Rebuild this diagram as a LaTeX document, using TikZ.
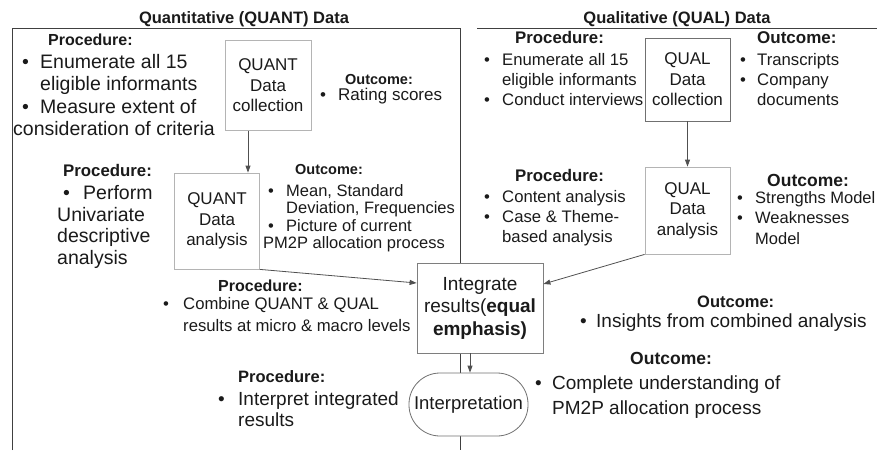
\documentclass[tikz,border=0pt]{standalone}
\usepackage{fontspec}
\setmainfont{Liberation Sans}
\usetikzlibrary{arrows.meta}
\definecolor{txtc}{HTML}{1A1A1A}
\definecolor{framec}{HTML}{404040}
\definecolor{arrc}{HTML}{505050}
\definecolor{lightbox}{HTML}{B4B4B4}
\definecolor{darkbox}{HTML}{707070}
\newcommand\fz[1]{\fontsize{#1}{#1}\selectfont}
\tikzset{
  ln/.style={anchor=base west, inner sep=0pt, text=txtc},
  hd/.style={ln},
  ttl/.style={anchor=base, inner sep=0pt, text=txtc, font=\bfseries\fz{16.5}},
  boxq/.style={draw=#1, line width=0.8pt, fill=white, inner sep=0pt, align=center, text=txtc, font={\fontsize{17}{20.5}\selectfont}},
  arr/.style={draw=arrc, line width=0.8pt, -{Triangle[length=7pt,width=5pt]}},
  frame/.style={draw=framec, line width=0.9pt}
}
\begin{document}
\begin{tikzpicture}[x=1pt,y=-1pt]
\useasboundingbox (0,0) rectangle (877,450);
% panel frames
\coordinate (lb) at (12,450);
\coordinate (lt) at (12,28);
\coordinate (rt) at (460,28);
\coordinate (rb) at (460,450);
\coordinate (qa) at (477,28);
\coordinate (qb) at (877,28);
\draw[frame] (lb) -- (lt) -- (rt) -- (rb);
\draw[frame] (qa) -- (qb);
% titles
\node[ttl] (t1) at (244,23) {Quantitative (QUANT) Data};
\node[ttl] (t2) at (677,23) {Qualitative (QUAL) Data};

% boxes
\node[boxq=lightbox, minimum width=86pt, minimum height=90pt] (qcol) at (268,85.5) {QUANT\\Data\\collection};
\node[boxq=lightbox, minimum width=85pt, minimum height=96pt] (qana) at (217,221) {QUANT\\Data\\analysis};
\node[boxq=darkbox, minimum width=85pt, minimum height=83pt] (lcol) at (687.5,79.5) {QUAL\\Data\\collection};
\node[boxq=lightbox, minimum width=85pt, minimum height=87pt] (lana) at (687.5,210.5) {QUAL\\Data\\analysis};
\node[boxq=darkbox!80!lightbox, minimum width=126pt, minimum height=90pt, font={\fontsize{19}{22.5}\selectfont}] (integ) at (480,308) {Integrate\\results(\textbf{equal}\\\textbf{emphasis)}};
\node[boxq=darkbox, minimum width=119pt, minimum height=63pt, rounded corners=31pt, font=\fz{18.5}] (interp) at (468.5,404.5) {Interpretation};

% arrows
\draw[arr] ([xshift=-20pt]qcol.south) -- ([xshift=-20pt]qcol.south |- qana.north);
\draw[arr] (qana.south east) -- ([yshift=25pt]integ.west);
\draw[arr] (lcol.south) -- (lana.north);
\draw[arr] (lana.south west) -- ([yshift=24pt]integ.east);
\draw[arr] ([xshift=-10pt]integ.south) -- ([xshift=-10pt]integ.south |- interp.north);

% top-left procedure
\node[hd, font=\bfseries\fz{16}] (p1h) at (48,45) {Procedure:};
\node[ln, font=\fz{19.5}] (p1b1) at (22,68) {•};
\node[ln, font=\fz{19.5}] (p1a) at (40,68) {Enumerate all 15};
\node[ln, font=\fz{19.5}] (p1b) at (40,90.5) {eligible informants};
\node[ln, font=\fz{19.5}] (p1b2) at (22,113) {•};
\node[ln, font=\fz{19.5}] (p1c) at (40,113) {Measure extent of};
\node[ln, font=\fz{19.5}] (p1d) at (13,135.5) {consideration of criteria};
% top-left outcome
\node[hd, font=\bfseries\fz{14.5}] (o1h) at (345,84.5) {Outcome:};
\node[ln, font=\fz{17}] (o1b1) at (320,100.5) {•};
\node[ln, font=\fz{17}] (o1a) at (338,100.5) {Rating scores};

% mid-left procedure
\node[hd, font=\bfseries\fz{16.8}] (p2h) at (63,176.5) {Procedure:};
\node[ln, font=\fz{19.5}] (p2b1) at (63,199) {•};
\node[ln, font=\fz{19.5}] (p2a) at (83,199) {Perform};
\node[ln, font=\fz{19.5}] (p2b) at (57,221) {Univariate};
\node[ln, font=\fz{19.5}] (p2c) at (57,242.5) {descriptive};
\node[ln, font=\fz{19.5}] (p2d) at (57,264) {analysis};
% mid-left outcome
\node[hd, font=\bfseries\fz{14.5}] (o2h) at (295,174) {Outcome:};
\node[ln, font=\fz{16.5}] (o2b1) at (268,196) {•};
\node[ln, font=\fz{16.5}] (o2a) at (286,196) {Mean, Standard};
\node[ln, font=\fz{16.5}] (o2b) at (286,213.5) {Deviation, Frequencies};
\node[ln, font=\fz{16.5}] (o2b2) at (268,231) {•};
\node[ln, font=\fz{16.5}] (o2c) at (286,231) {Picture of current};
\node[ln, font=\fz{16.5}] (o2d) at (263,248) {PM2P allocation process};

% top-right procedure
\node[hd, font=\bfseries\fz{16.8}] (p3h) at (515,43.5) {Procedure:};
\node[ln, font=\fz{16.7}] (p3b1) at (484,65) {•};
\node[ln, font=\fz{16.7}] (p3a) at (502,65) {Enumerate all 15};
\node[ln, font=\fz{16.7}] (p3b) at (502,85) {eligible informants};
\node[ln, font=\fz{16.7}] (p3b2) at (484,105) {•};
\node[ln, font=\fz{16.7}] (p3c) at (502,105) {Conduct interviews};
% top-right outcome
\node[hd, font=\bfseries\fz{17}] (o3h) at (757,43.5) {Outcome:};
\node[ln, font=\fz{16.7}] (o3b1) at (740,65) {•};
\node[ln, font=\fz{16.7}] (o3a) at (757,65) {Transcripts};
\node[ln, font=\fz{16.7}] (o3b2) at (740,85) {•};
\node[ln, font=\fz{16.7}] (o3b) at (757,85) {Company};
\node[ln, font=\fz{16.7}] (o3c) at (757,105) {documents};

% mid-right procedure
\node[hd, font=\bfseries\fz{16.8}] (p4h) at (515,181) {Procedure:};
\node[ln, font=\fz{16.7}] (p4b1) at (484,202) {•};
\node[ln, font=\fz{16.7}] (p4a) at (502,202) {Content analysis};
\node[ln, font=\fz{16.7}] (p4b2) at (484,222.5) {•};
\node[ln, font=\fz{16.7}] (p4b) at (502,222.5) {Case \& Theme-};
\node[ln, font=\fz{16.7}] (p4c) at (502,242.5) {based analysis};
% mid-right outcome
\node[hd, font=\bfseries\fz{17.5}] (o4h) at (767,186) {Outcome:};
\node[ln, font=\fz{16.5}] (o4b1) at (737,203) {•};
\node[ln, font=\fz{16.5}] (o4a) at (755,203) {Strengths Model};
\node[ln, font=\fz{16.5}] (o4b2) at (737,223.5) {•};
\node[ln, font=\fz{16.5}] (o4b) at (755,223.5) {Weaknesses};
\node[ln, font=\fz{16.5}] (o4c) at (755,244) {Model};

% combine procedure
\node[hd, font=\bfseries\fz{16}] (p5h) at (218,291) {Procedure:};
\node[ln, font=\fz{16.7}] (p5b1) at (163,309.5) {•};
\node[ln, font=\fz{16.7}] (p5a) at (183,309.5) {Combine QUANT \& QUAL};
\node[ln, font=\fz{16.7}] (p5b) at (183,331) {results at micro \& macro levels};
% insights outcome
\node[hd, font=\bfseries\fz{16.5}] (o5h) at (697,307) {Outcome:};
\node[ln, font=\fz{19}] (o5b1) at (580,327.5) {•};
\node[ln, font=\fz{19}] (o5a) at (596,327.5) {Insights from combined analysis};

% interpret procedure
\node[hd, font=\bfseries\fz{16.5}] (p6h) at (238,382.5) {Procedure:};
\node[ln, font=\fz{19}] (p6b1) at (218,405) {•};
\node[ln, font=\fz{19}] (p6a) at (238,405) {Interpret integrated};
\node[ln, font=\fz{19}] (p6b) at (238,426.5) {results};
% complete outcome
\node[hd, font=\bfseries\fz{17.5}] (o6h) at (630,364) {Outcome:};
\node[ln, font=\fz{19}] (o6b1) at (535,389.5) {•};
\node[ln, font=\fz{19}] (o6a) at (552,389.5) {Complete understanding of};
\node[ln, font=\fz{19}] (o6b) at (552,414) {PM2P allocation process};
\end{tikzpicture}
\end{document}
